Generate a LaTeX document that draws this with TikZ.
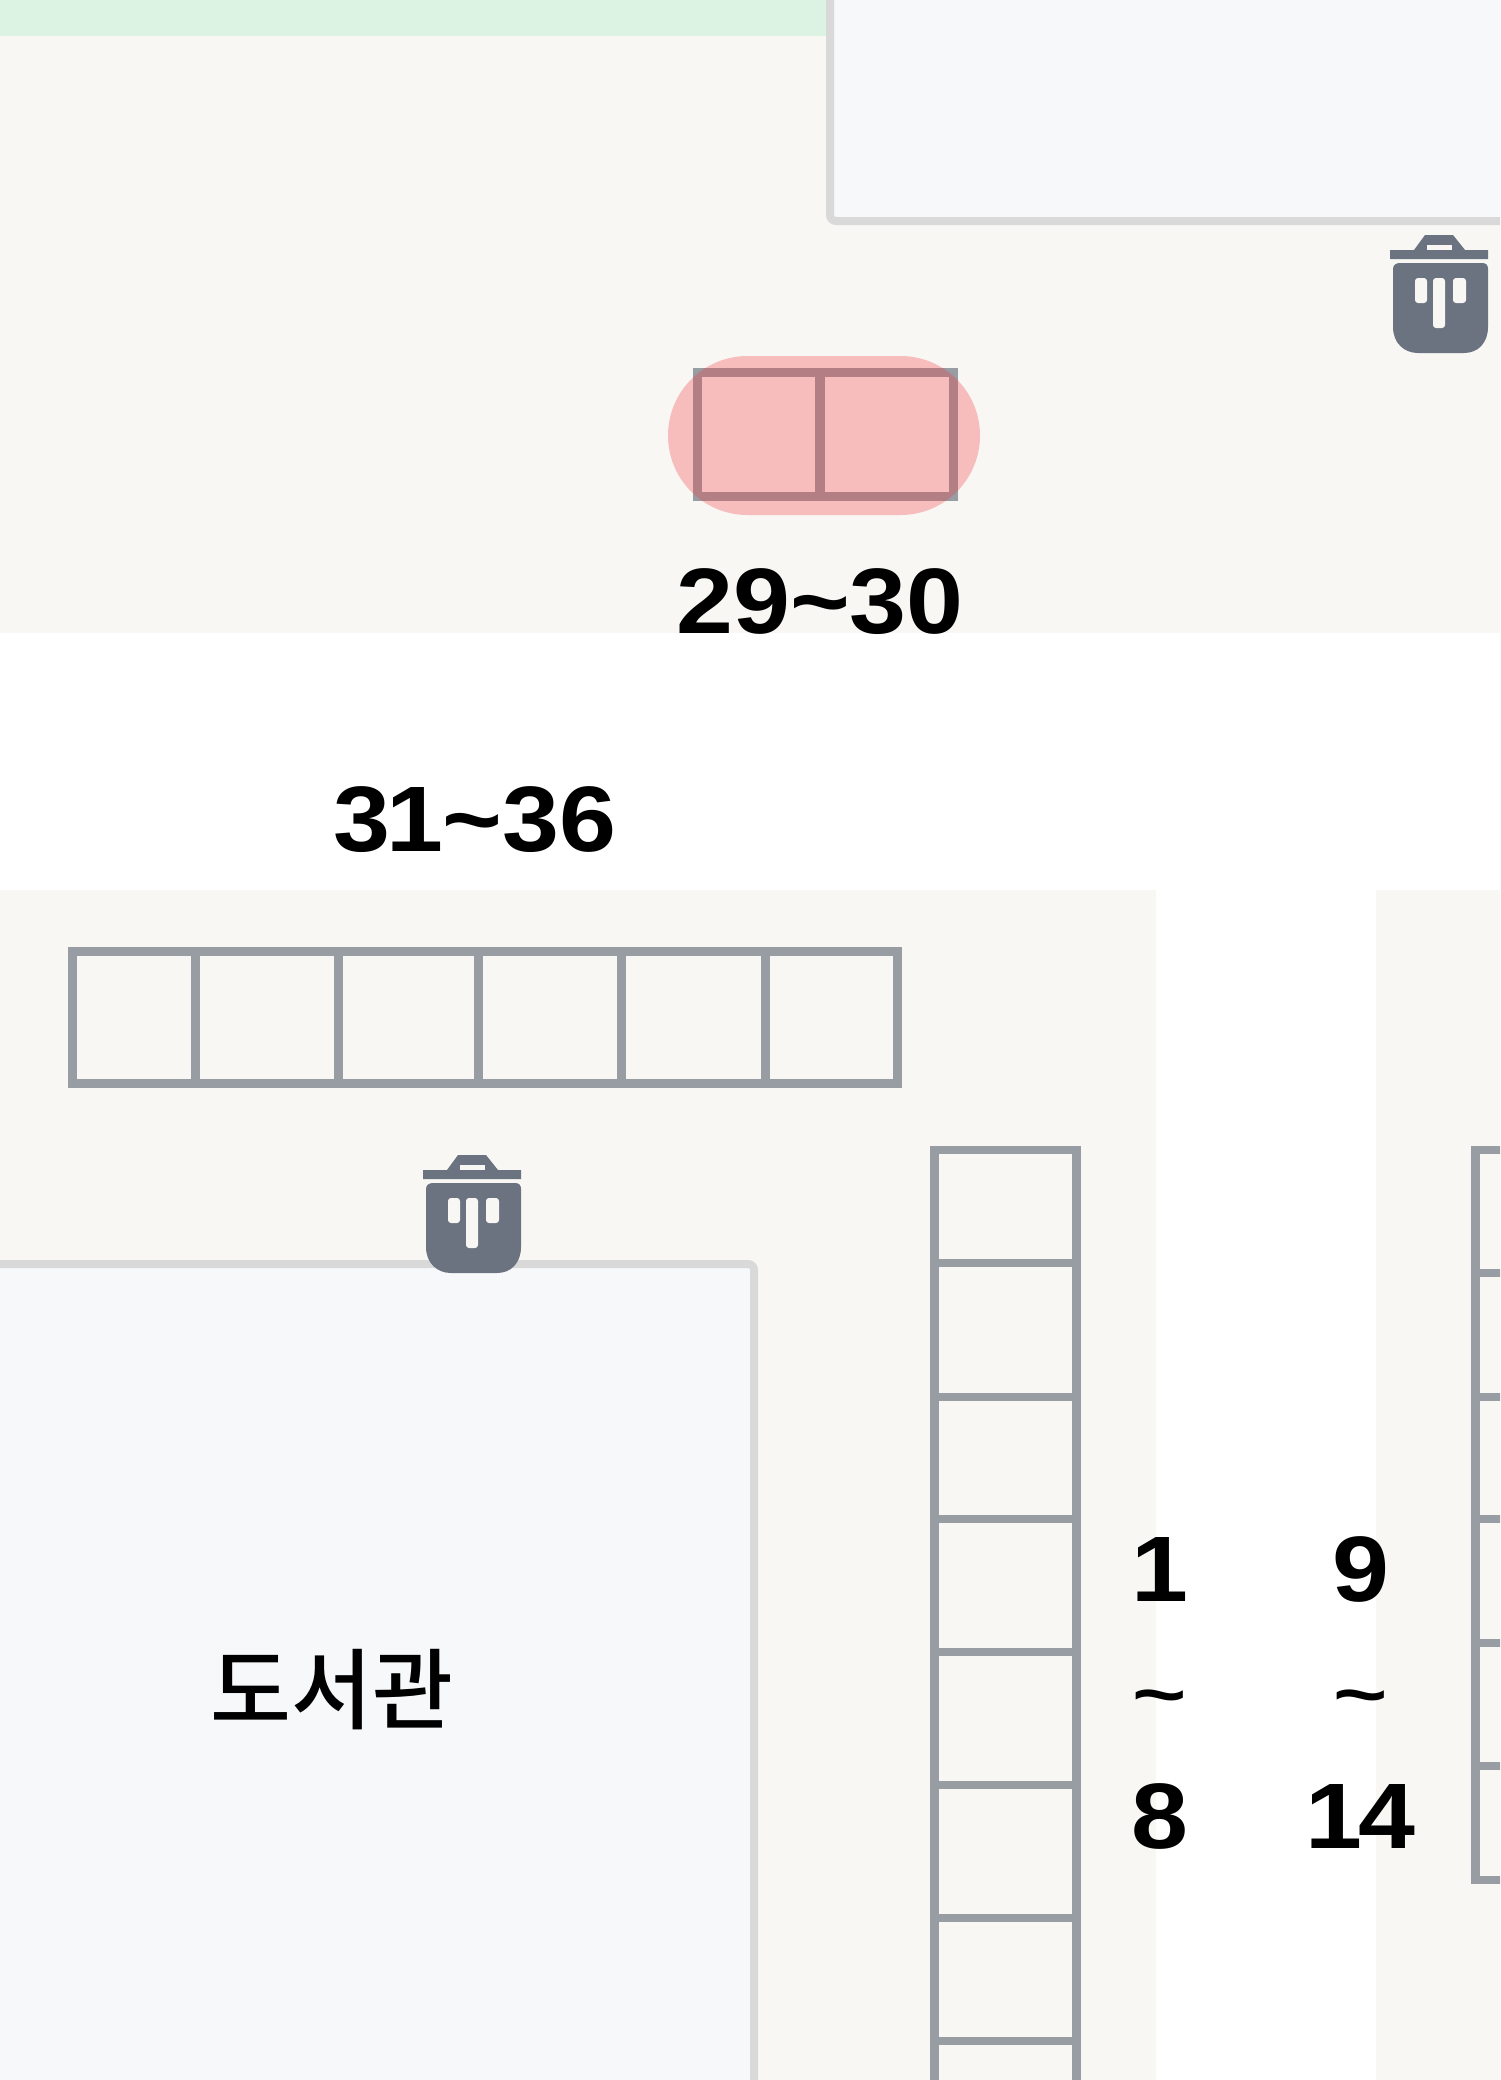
\documentclass[tikz,border=0pt]{standalone}
\usepackage{fontspec}
\setmainfont{Liberation Sans}
\newfontfamily\lblfont[FakeStretch=1.1]{Liberation Sans Bold}
\newfontfamily\tildefont{Liberation Sans}
\newfontfamily\krfont{Noto Sans CJK KR Medium}
\definecolor{ground}{RGB}{248,247,244}
\definecolor{lawn}{RGB}{220,242,227}
\definecolor{bldg}{RGB}{247,248,250}
\definecolor{bldgedge}{RGB}{217,217,217}
\definecolor{seatline}{RGB}{152,156,163}
\definecolor{iconcol}{RGB}{107,114,128}
\definecolor{pill}{RGB}{245,57,64}
\tikzset{
  seat/.style={draw=seatline,line width=9pt,fill=none,line join=miter},
  seatthin/.style={draw=seatline,line width=8pt},
  building/.style={draw=bldgedge,line width=8pt,fill=bldg,rounded corners=6pt},
  lbl/.style={inner sep=0pt,anchor=base,font=\lblfont\fontsize{93}{93}\selectfont,text=black},
  lbltilde/.style={inner sep=0pt,anchor=base,font=\tildefont\bfseries\fontsize{93}{93}\selectfont,text=black},
  trashbin/.pic={
    \fill[iconcol] (0,15) -- (24,15) -- (35,0) -- (63,0) -- (75,15) -- (98,15) -- (98,24) -- (0,24) -- cycle;
    \fill[ground] (37,10) rectangle (62,15);
    \fill[iconcol] (10,28) -- (92,28) .. controls (96,28) and (98,30) .. (98,34) -- (98,92)
      .. controls (98,108) and (88,118) .. (74,118) -- (28,118)
      .. controls (14,118) and (3,108) .. (3,92) -- (3,34)
      .. controls (3,30) and (6,28) .. (10,28) -- cycle;
    \fill[ground,rounded corners=3pt] (25,43) rectangle (37,68);
    \fill[ground,rounded corners=3pt] (43,43) rectangle (55,93);
    \fill[ground,rounded corners=3pt] (63,43) rectangle (76,68);
  }
}
\begin{document}
\begin{tikzpicture}[x=1pt,y=-1pt]
\useasboundingbox (0,0) rectangle (1500,2080);
\clip (0,0) rectangle (1500,2080);
% ground
\fill[white] (0,0) rectangle (1500,2080);
\fill[ground] (0,0) rectangle (1500,633);
\fill[lawn] (0,0) rectangle (830,36);
\fill[ground] (0,890) rectangle (1156,2080);
\fill[ground] (1376,890) rectangle (1500,2080);
% buildings
\draw[building] (830,-20) -- (830,221) -- (1520,221) -- (1520,-20) -- cycle;
\draw[building] (-20,1264) -- (754,1264) -- (754,2100) -- (-20,2100) -- cycle;
% seats 29-30
\draw[seat,line width=9.3pt] (697.5,372.5) rectangle (953.5,496.5);
\draw[seat,line width=9.3pt] (820,372.5) -- (820,496.5);
\fill[pill,opacity=.3] (747.5,356) -- (900.5,356)
  arc[start angle=-90,end angle=90,radius=79.5] -- (747.5,515)
  arc[start angle=90,end angle=270,radius=79.5] -- cycle;
% seats 31-36
\draw[seat] (72,951.5) rectangle (897.5,1083);
\foreach \x in {195,338,478,621,765} \draw[seat] (\x,951.5) -- (\x,1083);
% seats 1-8
\draw[seat] (934.5,1150) -- (934.5,2100) (1076.5,1150) -- (1076.5,2100);
\draw[seatthin] (930,1150) -- (1081,1150);
\foreach \y in {1263,1397,1519,1652,1785,1918,2041} \draw[seatthin] (934.5,\y) -- (1076.5,\y);
% seats 9-14
\draw[seat] (1475,1146) -- (1475,1884);
\draw[seatthin] (1475,1150) -- (1520,1150) (1475,1880) -- (1520,1880);
\foreach \y in {1273,1397,1519,1643,1766} \draw[seatthin] (1475,\y) -- (1520,\y);
% bins
\pic at (1390,235) {trashbin};
\pic at (423,1155) {trashbin};
% labels
\node[lbl] (l2930) at (820,633) {29\string~30};
\node[lbl] (l3136) at (475,851) {3\kern-4pt 1\kern-1pt\string~36};
\node[lbl] (la1) at (1160,1601) {1};
\node[lbltilde] (lat) at (1160,1718) {\scalebox{1}[0.75]{\string~}};
\node[lbl] (la8) at (1160,1848) {8};
\node[lbl] (lb9) at (1361,1601) {9};
\node[lbltilde] (lbt) at (1361,1718) {\scalebox{1}[0.75]{\string~}};
\node[lbl] (lb14) at (1360,1848) {1\kern-4pt 4};
\node[inner sep=0pt,font=\krfont\fontsize{88}{88}\selectfont] (lib) at (332,1690) {도서관};
\end{tikzpicture}
\end{document}
